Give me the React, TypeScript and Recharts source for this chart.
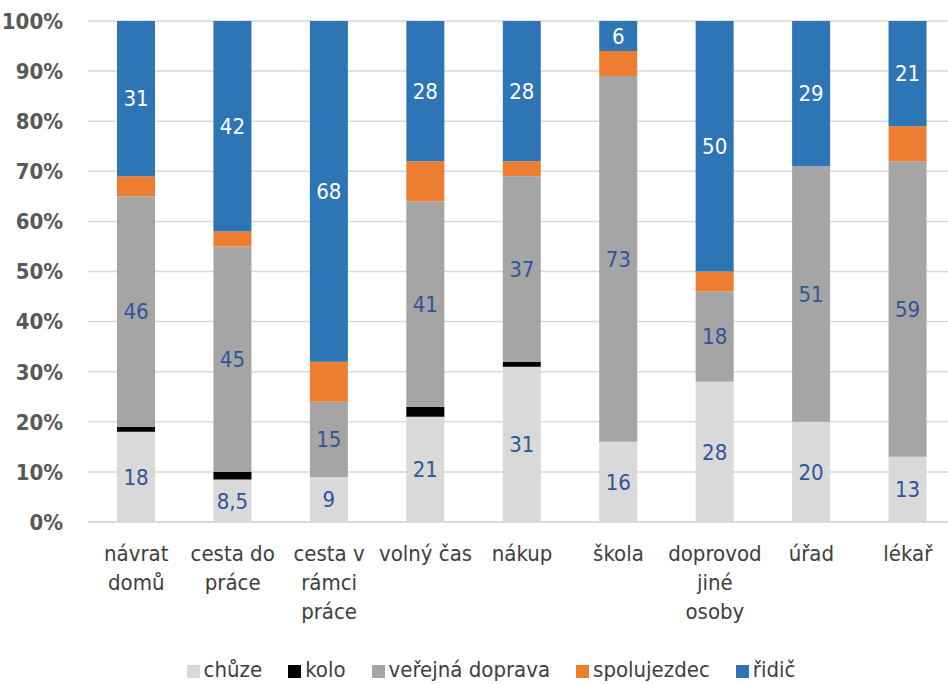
import { BarChart, Bar, XAxis, YAxis, CartesianGrid, Legend, LabelList } from 'recharts';

const categories = [
  'návrat\ndomů',
  'cesta do\npráce',
  'cesta v\nrámci\npráce',
  'volný čas',
  'nákup',
  'škola',
  'doprovod\njiné\nosoby',
  'úřad',
  'lékař',
];

const chuze = [18, 8.5, 9, 21, 31, 16, 28, 20, 13];
const kolo = [1, 1.5, 0, 2, 1, 0, 0, 0, 0];
const verejna = [46, 45, 15, 41, 37, 73, 18, 51, 59];
const spolujezdec = [4, 3, 8, 8, 3, 5, 4, 0, 7];
const ridic = [31, 42, 68, 28, 28, 6, 50, 29, 21];

const yTicks = [0, 10, 20, 30, 40, 50, 60, 70, 80, 90, 100];

const data = categories.map((name, i) => ({
  name,
  chuze: chuze[i],
  kolo: kolo[i],
  verejna: verejna[i],
  spolujezdec: spolujezdec[i],
  ridic: ridic[i],
}));

const FONT = '"DejaVu Sans Condensed", "Liberation Sans", sans-serif';

const fmt = (v: any) => String(v).replace('.', ',');

function CategoryTick({ x, y, payload }: any) {
  const lines = String(payload.value).split('\n');
  return (
    <text x={x} y={y} textAnchor="middle" fill="#404040" fontSize={22} fontFamily={FONT}>
      {lines.map((line, i) => (
        <tspan key={i} x={x} dy={i === 0 ? 31 : 29}>
          {line}
        </tspan>
      ))}
    </text>
  );
}

export default function App() {
  return (
    <div style={{ position: 'absolute', left: 0, top: 0, width: 948, height: 684, overflow: 'hidden', fontFamily: FONT }}>
      <BarChart
        width={960}
        height={684}
        data={data}
        margin={{ top: 21, right: 4, bottom: 0, left: 0 }}
        barSize={38}
      >
        <CartesianGrid vertical={false} stroke="#D9D9D9" strokeWidth={1.5} />
        <XAxis
          dataKey="name"
          interval={0}
          tick={<CategoryTick />}
          tickLine={false}
          axisLine={{ stroke: '#D9D9D9', strokeWidth: 1.5 }}
          height={137}
        />
        <YAxis
          domain={[0, 100]}
          ticks={yTicks}
          tickFormatter={(v: number) => `${v}%`}
          axisLine={false}
          tickLine={false}
          tickSize={0}
          tickMargin={25}
          width={88}
          tick={{ fill: '#595959', fontSize: 22, fontWeight: 'bold', fontFamily: FONT }}
        />
        <Legend
          verticalAlign="bottom"
          iconType="square"
          iconSize={13}
          itemSorter={null}
          wrapperStyle={{ fontSize: 22, fontFamily: FONT, bottom: 2, left: 30, width: 948 }}
          formatter={(value: string) => <span style={{ color: '#404040', marginRight: 16 }}>{value}</span>}
        />
        <Bar dataKey="chuze" name="chůze" stackId="a" fill="#D9D9D9" isAnimationActive={false}>
          <LabelList dataKey="chuze" position="center" formatter={fmt} fill="#2F5597" fontSize={22} fontFamily={FONT} />
        </Bar>
        <Bar dataKey="kolo" name="kolo" stackId="a" fill="#000000" isAnimationActive={false} />
        <Bar dataKey="verejna" name="veřejná doprava" stackId="a" fill="#A5A5A5" isAnimationActive={false}>
          <LabelList dataKey="verejna" position="center" formatter={fmt} fill="#2F5597" fontSize={22} fontFamily={FONT} />
        </Bar>
        <Bar dataKey="spolujezdec" name="spolujezdec" stackId="a" fill="#ED7D31" isAnimationActive={false} />
        <Bar dataKey="ridic" name="řidič" stackId="a" fill="#2E75B6" isAnimationActive={false}>
          <LabelList dataKey="ridic" position="center" formatter={fmt} fill="#FFFFFF" fontSize={22} fontFamily={FONT} />
        </Bar>
      </BarChart>
    </div>
  );
}
